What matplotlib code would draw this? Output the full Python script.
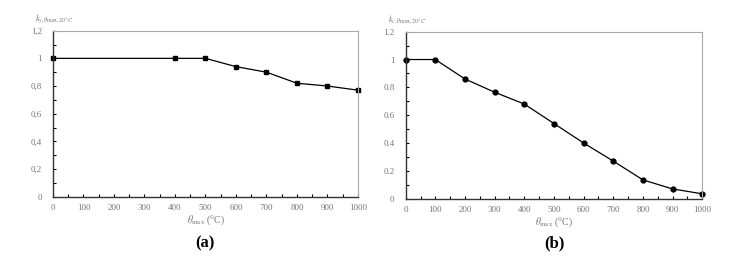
import matplotlib
matplotlib.use('Agg')
import matplotlib.pyplot as plt
from matplotlib.ticker import MultipleLocator, FuncFormatter

# panel (a)
temps_a = [0, 400, 500, 600, 700, 800, 900, 1000]
k_a = [1.0, 1.0, 1.0, 0.94, 0.90, 0.82, 0.80, 0.77]

# panel (b)
temps_b = [0, 100, 200, 300, 400, 500, 600, 700, 800, 900, 1000]
k_b = [1.0, 1.0, 0.86, 0.765, 0.68, 0.54, 0.40, 0.27, 0.135, 0.07, 0.035]

plt.rcParams['font.family'] = ['Liberation Serif', 'DejaVu Serif']
plt.rcParams['mathtext.fontset'] = 'stix'

fig = plt.figure(figsize=(7.34, 2.78), dpi=100)
axA = fig.add_axes([0.0722, 0.2925, 0.4155, 0.5971])
axB = fig.add_axes([0.5527, 0.2853, 0.4041, 0.6007])

gray = '#777777'

def styleAxis(ax, comma, ylab):
    ax.set_xlim(0, 1000)
    ax.set_ylim(0, 1.2)
    ax.xaxis.set_major_locator(MultipleLocator(100))
    ax.xaxis.set_minor_locator(MultipleLocator(50))
    ax.yaxis.set_major_locator(MultipleLocator(0.2))
    ax.yaxis.set_minor_locator(MultipleLocator(0.1))
    if comma:
        fmt = FuncFormatter(lambda v, p: ('%g' % round(v, 2)).replace('.', ','))
    else:
        fmt = FuncFormatter(lambda v, p: '%g' % round(v, 2))
    ax.yaxis.set_major_formatter(fmt)
    ax.tick_params(which='both', direction='in', labelsize=6.5, labelcolor=gray,
                   top=False, right=False, width=0.8)
    ax.tick_params(which='major', length=2.5)
    ax.tick_params(which='minor', length=2)
    ax.tick_params(axis='x', pad=5)
    ax.tick_params(axis='y', pad=8)
    for side in ['left', 'bottom']:
        ax.spines[side].set_color('#333333')
        ax.spines[side].set_linewidth(1.0)
    for side in ['top', 'right']:
        ax.spines[side].set_color('#aaaaaa')
        ax.spines[side].set_linewidth(0.8)
    ax.set_xlabel(r'$\theta_{\mathrm{max}}$ (°C)', fontsize=7, color=gray, labelpad=1)
    ax.text(-0.06, 1.06, ylab, transform=ax.transAxes, fontsize=6, color=gray)

axA.plot(temps_a, k_a, color='black', lw=0.9, marker='s', ms=3, clip_on=False)
styleAxis(axA, True, r'$k_{y,\theta\mathrm{max},20°C}$')

axB.plot(temps_b, k_b, color='black', lw=0.9, marker='o', ms=3.5, clip_on=False)
styleAxis(axB, False, r'$k_{c,\theta\mathrm{max},20°C}$')

fig.text(0.279, 0.125, '(a)', fontsize=12, fontweight='bold', ha='center', va='center')
fig.text(0.756, 0.125, '(b)', fontsize=12, fontweight='bold', ha='center', va='center')

fig.savefig('out.png', dpi=100, facecolor='white')
